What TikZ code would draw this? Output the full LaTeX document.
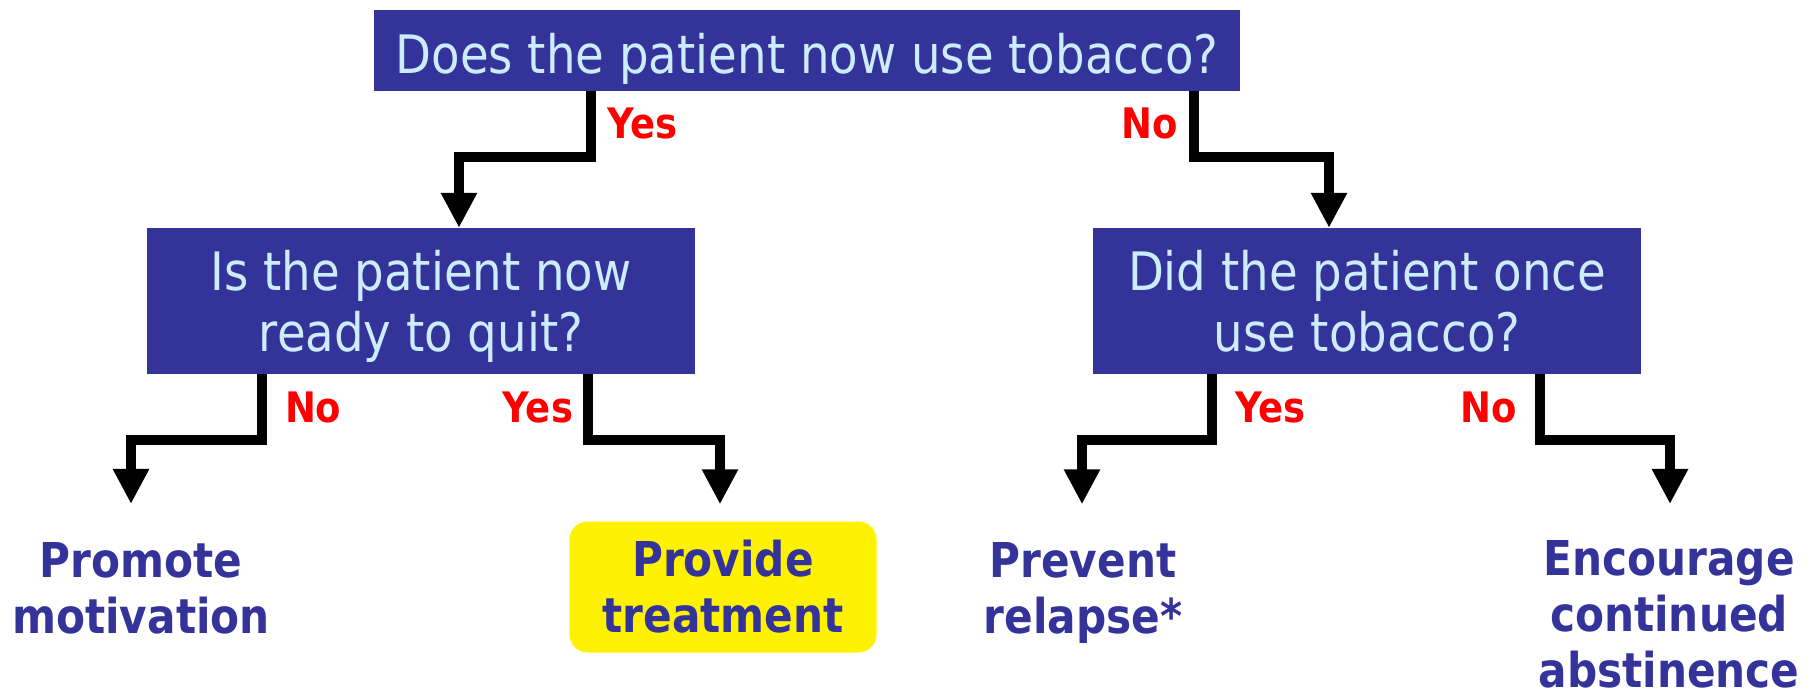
\documentclass[tikz,border=0pt]{standalone}
\usepackage{fontspec}
\setmainfont{DejaVu Sans}[FakeStretch=0.88]
\usepackage{xcolor}
\usetikzlibrary{arrows.meta}
\definecolor{boxblue}{RGB}{51,51,153}
\definecolor{boxtext}{RGB}{204,236,255}

\begin{document}
\begin{tikzpicture}[x=1pt,y=-1pt]

		\tikzstyle{question} = [rectangle, fill=boxblue, text=boxtext, inner sep=0pt, align=center, font=\fontsize{53}{61}\selectfont,
			execute at end node={\rule[-13pt]{0pt}{13pt}}]
		\tikzstyle{oneline}  = [execute at begin node={\rule{0pt}{59pt}}]
		\tikzstyle{twoline}  = [execute at begin node={\rule{0pt}{114pt}}]
		\tikzstyle{outcome}  = [align=center, text=boxblue, inner sep=0pt, font=\fontsize{48}{56}\selectfont\bfseries]
		\tikzstyle{answer}   = [text=red, inner xsep=18pt, inner ysep=0pt, font=\fontsize{42}{42}\selectfont\bfseries]
		\tikzstyle{flow}     = [draw, line width=10pt, -{Triangle[length=35pt,width=34pt]}]
		\useasboundingbox (0,0) rectangle (1817,697);
		%%Questions
		\node [question, oneline, minimum width=866pt, minimum height=81pt](now) at (807,50) {Does the patient now use tobacco?};
		\node [question, twoline, minimum width=548pt, minimum height=146pt](ready) at (421,301) {Is the patient now\\ready to quit?};
		\node [question, twoline, minimum width=548pt, minimum height=146pt](once) at (1367,301) {Did the patient once\\use tobacco?};
		%%Outcomes
		\node [outcome](motiv) at (141,588) {Promote\\motivation};
		\node [outcome, fill=yellow, rounded corners=18pt, minimum width=307pt, minimum height=131pt](treat) at (723,587) {Provide\\treatment};
		\node [outcome](relapse) at (1083,593) {Prevent\\relapse*};
		\node [outcome](abstain) at (1669,614) {Encourage\\continued\\abstinence};
		%%Arrows
		\draw [flow] ([xshift=-216pt]now.south) -- ++(0,66) node[answer, inner xsep=11pt, midway, right](nowyes){Yes} -| ([xshift=38pt]ready.north);
		\draw [flow] ([xshift=387pt]now.south) -- ++(0,66) node[answer, inner xsep=11pt, midway, left](nowno){No} -| ([xshift=-38pt]once.north);
		\draw [flow, shorten >=38pt] ([xshift=-159pt]ready.south) -- ++(0,66) node[answer, midway, right](readyno){No} -| ([xshift=-10pt]motiv.north);
		\draw [flow, shorten >=17pt] ([xshift=167pt]ready.south) -- ++(0,66) node[answer, inner xsep=10pt, midway, left](readyyes){Yes} -| ([xshift=-3pt]treat.north);
		\draw [flow, shorten >=38pt] ([xshift=-155pt]once.south) -- ++(0,66) node[answer, midway, right](onceyes){Yes} -| ([xshift=-1pt]relapse.north);
		\draw [flow, shorten >=36pt] ([xshift=173pt]once.south) -- ++(0,66) node[answer, midway, left](onceno){No} -| ([xshift=1pt]abstain.north);
	\end{tikzpicture}
\end{document}
